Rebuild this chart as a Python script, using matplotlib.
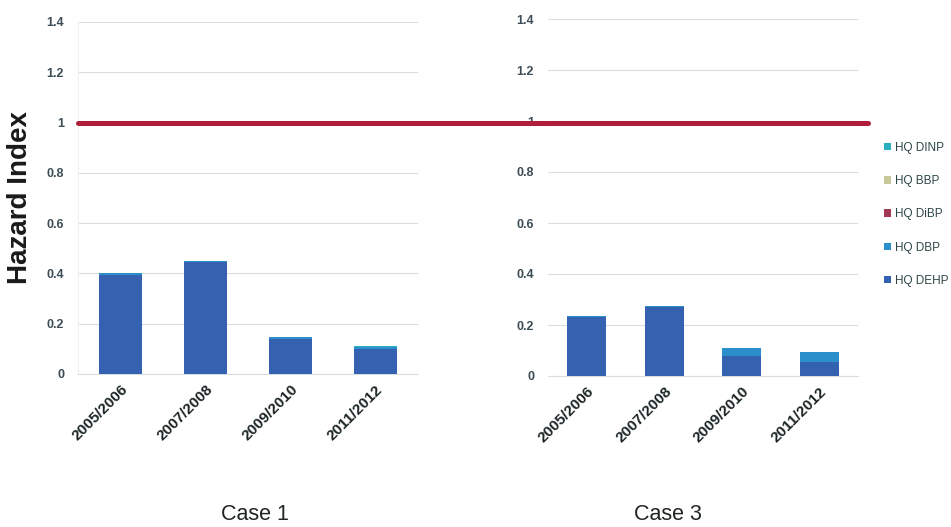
import matplotlib
matplotlib.use("Agg")
import matplotlib.pyplot as plt
import numpy as np

periods = ["2005/2006", "2007/2008", "2009/2010", "2011/2012"]
series = ["HQ DEHP", "HQ DBP", "HQ DiBP", "HQ BBP", "HQ DINP"]
colors = ["#3462b0", "#2b8fcb", "#a33a55", "#c8c89a", "#2ab0c0"]

case1 = {
    "HQ DEHP": [0.395, 0.445, 0.14, 0.10],
    "HQ DBP": [0.005, 0.005, 0.008, 0.006],
    "HQ DiBP": [0.0, 0.0, 0.0, 0.0],
    "HQ BBP": [0.0, 0.0, 0.0, 0.0],
    "HQ DINP": [0.0, 0.0, 0.0, 0.004],
}
case3 = {
    "HQ DEHP": [0.23, 0.27, 0.08, 0.055],
    "HQ DBP": [0.005, 0.005, 0.03, 0.04],
    "HQ DiBP": [0.0, 0.0, 0.0, 0.0],
    "HQ BBP": [0.0, 0.0, 0.0, 0.0],
    "HQ DINP": [0.0, 0.0, 0.0, 0.0],
}
threshold = 1.0
yticks = [0, 0.2, 0.4, 0.6, 0.8, 1, 1.2, 1.4]
ytick_labels = ["0", "0.2", "0.4", "0.6", "0.8", "1", "1.2", "1.4"]

plt.rcParams['font.family'] = ['Liberation Sans', 'DejaVu Sans']

W, H = 951, 527
fig = plt.figure(figsize=(W / 100, H / 100), dpi=100)

ax1 = fig.add_axes([78 / W, 1 - 374 / H, 340 / W, 352 / H])
ax2 = fig.add_axes([548 / W, 1 - 376 / H, 310 / W, 357 / H])
ax1.set_zorder(5)

tick_col = "#3d4d55"
handles = []
for ax, data in ((ax1, case1), (ax2, case3)):
    x = np.arange(len(periods))
    bottom = np.zeros(len(periods))
    for s, c in zip(series, colors):
        vals = np.array(data[s])
        b = ax.bar(x, vals, 0.5, bottom=bottom, color=c, label=s, zorder=3)
        bottom += vals
        if ax is ax1:
            handles.append(b)
    ax.set_xlim(-0.5, len(periods) - 0.5)
    ax.set_ylim(0, 1.4)
    ax.set_yticks(yticks)
    ax.set_yticklabels(ytick_labels, fontsize=9, color=tick_col, fontweight='bold')
    ax.set_xticks(x)
    ax.set_xticklabels(periods, rotation=45, ha='right', rotation_mode='anchor',
                       fontsize=11, fontweight='bold', color="#1a2424")
    ax.tick_params(axis='both', length=0)
    ax.tick_params(axis='y', pad=10)
    ax.tick_params(axis='x', pad=6)
    ax.grid(axis='y', color="#d9dde2", linewidth=0.8, zorder=0)
    for sp in ("top", "right", "left"):
        ax.spines[sp].set_visible(False)
    ax.spines["bottom"].set_color("#d9dde2")
    ax.set_facecolor("none")

ax1.spines["left"].set_visible(True)
ax1.spines["left"].set_color("#eef0f2")

ax1.set_ylabel("Hazard Index", fontsize=20, fontweight='bold', color="#1a1a1a", labelpad=10)

# threshold line spanning both panels
ax1.axhline(threshold, xmin=0, xmax=(868 - 78) / 340, color="#b01e3c", linewidth=3.6,
            clip_on=False, zorder=10, solid_capstyle='round')

fig.text(255 / W, 1 - 515 / H, "Case 1", fontsize=15.5, color="#1f2424", ha='center', va='center')
fig.text(668 / W, 1 - 515 / H, "Case 3", fontsize=15.5, color="#1f2424", ha='center', va='center')

leg_handles = handles[::-1]
leg_labels = series[::-1]
fig.legend(leg_handles, leg_labels, loc='upper left', bbox_to_anchor=(878 / W, 1 - 136 / H),
           frameon=False, fontsize=8.5, labelspacing=1.8, handlelength=0.6, handleheight=0.6,
           handletextpad=0.3, borderpad=0, labelcolor="#2f4646")

fig.savefig("out.png", dpi=100)
